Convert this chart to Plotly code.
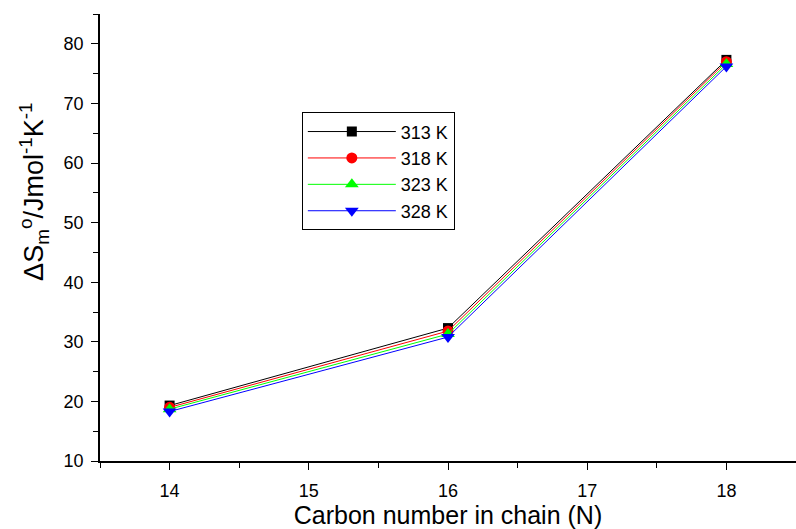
import plotly.graph_objects as go

carbon = [14, 16, 18]
s313 = [19.3, 32.3, 77.3]
s318 = [19.0, 31.8, 77.0]
s323 = [18.7, 31.3, 76.6]
s328 = [18.3, 30.8, 76.2]
names = ["313 K", "318 K", "323 K", "328 K"]
colors = ["#000000", "#ff0000", "#00ff00", "#0000ff"]
symbols = ["square", "circle", "triangle-up", "triangle-down"]
sizes = [10, 11, 12, 12]

FONT = "Liberation Sans, Arial, sans-serif"

fig = go.Figure()
for ys, n, c, s, sz in zip([s313, s318, s323, s328], names, colors, symbols, sizes):
    fig.add_trace(go.Scatter(x=carbon, y=ys, name=n, mode="lines+markers",
                             line=dict(color=c, width=1),
                             marker=dict(symbol=s, size=sz, color=c)))

axis_common = dict(showgrid=False, zeroline=False, showline=True, linecolor="black",
                   linewidth=1.5, ticks="outside", ticklen=7, tickwidth=1.2,
                   tickcolor="black", mirror=False,
                   tickfont=dict(family=FONT, size=18, color="black"))

fig.update_layout(
    width=796, height=529,
    margin=dict(l=100, r=0, t=14, b=68),
    plot_bgcolor="white", paper_bgcolor="white",
    font=dict(family=FONT, color="black"),
    xaxis=dict(range=[13.5, 18.5], dtick=1, tick0=14,
               minor=dict(dtick=0.5, ticks="outside", ticklen=5, tickcolor="black"),
               title=dict(text="Carbon number in chain (N)", font=dict(size=25), standoff=6),
               ticklabelstandoff=6,
               **axis_common),
    yaxis=dict(range=[10, 85], dtick=10, tick0=10,
               minor=dict(dtick=5, ticks="outside", ticklen=5, tickcolor="black"),
               ticklabelstandoff=4,
               **axis_common),
    legend=dict(x=0.29, y=0.78, xanchor="left", yanchor="top",
                bordercolor="black", borderwidth=1, bgcolor="white",
                font=dict(size=18, family=FONT),
                tracegroupgap=0, itemwidth=88),
    annotations=[dict(text="ΔS<sub>m</sub><sup>o</sup>/Jmol<sup>-1</sup>K<sup>-1</sup>",
                      xref="paper", yref="paper", x=0, y=0.602, xshift=-66,
                      xanchor="center", yanchor="middle", textangle=-90,
                      showarrow=False, font=dict(size=27, family=FONT, color="black"))],
)

fig.write_html("out.html", post_script="document.body.style.margin='0';",
               config={"displayModeBar": False})
